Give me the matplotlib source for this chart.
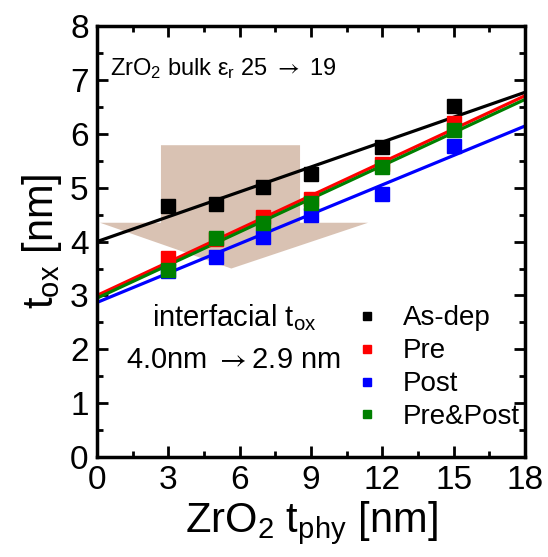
import matplotlib
matplotlib.use("Agg")
import matplotlib.pyplot as plt
import numpy as np
from matplotlib.patches import Polygon
from matplotlib.ticker import MultipleLocator

plt.rcParams["font.family"] = ["Liberation Sans", "DejaVu Sans"]
plt.rcParams["mathtext.fontset"] = "custom"
plt.rcParams["mathtext.rm"] = "Liberation Sans"
plt.rcParams["mathtext.it"] = "Liberation Sans:italic"
plt.rcParams["mathtext.sf"] = "STIXGeneral"

# physical ZrO2 thickness [nm]
t_phy = [3, 5, 7, 9, 12, 15]

series = ["As-dep", "Pre", "Post", "Pre&Post"]
colors = ["black", "#ff0000", "#0000ff", "#008000"]
tox_asdep = [4.66, 4.69, 5.01, 5.26, 5.75, 6.51]
tox_pre = [3.69, 4.05, 4.46, 4.80, 5.45, 6.21]
tox_post = [3.45, 3.72, 4.08, 4.49, 4.88, 5.77]
tox_prepost = [3.48, 4.06, 4.35, 4.71, 5.39, 6.07]

# linear fits (intercept, slope) as drawn in the picture
fit_intercept = [4.00, 3.00, 2.87, 2.95]
fit_slope = [0.154, 0.206, 0.182, 0.205]

fig = plt.figure(figsize=(5.48, 5.57), dpi=100)
ax = fig.add_axes([0.177, 0.1795, 0.781, 0.7735])

# big shaded arrow
arrow = Polygon([(2.69, 5.79), (8.54, 5.79), (8.54, 4.35), (11.4, 4.35),
                 (5.65, 3.50), (0.13, 4.35), (2.69, 4.35)],
                closed=True, facecolor="#d9c2b3", edgecolor="none", zorder=1)
ax.add_patch(arrow)

all_tox = [tox_asdep, tox_pre, tox_post, tox_prepost]
xfit = np.array([0, 18])
for i in range(4):
    ax.plot(xfit, fit_intercept[i] + fit_slope[i] * xfit, color=colors[i], lw=2.3, zorder=2)
for i in [0, 1, 2, 3]:
    ax.plot(t_phy, all_tox[i], ls="none", marker="s", ms=9.5, color=colors[i],
            label=series[i], zorder=3)

ax.set_xlim(0, 18)
ax.set_ylim(0, 8)
ax.xaxis.set_major_locator(MultipleLocator(3))
ax.xaxis.set_minor_locator(MultipleLocator(1.5))
ax.yaxis.set_major_locator(MultipleLocator(1))
ax.yaxis.set_minor_locator(MultipleLocator(0.5))
ax.tick_params(which="both", direction="in", top=True, right=True, width=2)
ax.tick_params(which="major", length=8, labelsize=24, pad=6)
ax.tick_params(which="minor", length=4)
for s in ax.spines.values():
    s.set_linewidth(2.5)

ax.set_xlabel("ZrO$_2$ t$_{\\rm phy}$ [nm]", fontsize=30, labelpad=2)
ax.set_ylabel("t$_{\\rm ox}$ [nm]", fontsize=30, labelpad=4)

ax.text(0.55, 7.1, "ZrO$_2$ bulk ε$_{\\rm r}$ 25 $\\mathsf{\\rightarrow}$ 19", fontsize=17)
ax.text(2.3, 2.43, "interfacial t$_{\\rm ox}$", fontsize=21)
ax.text(1.2, 1.65, "4.0nm $\\mathsf{\\rightarrow}$2.9 nm", fontsize=21)

ax.legend(loc="lower right", bbox_to_anchor=(1.02, 0.03), frameon=False, fontsize=20,
          markerscale=0.55, handlelength=0.8, handletextpad=0.9, labelspacing=0.25,
          borderaxespad=0.1)

fig.savefig("out.png", dpi=100)
